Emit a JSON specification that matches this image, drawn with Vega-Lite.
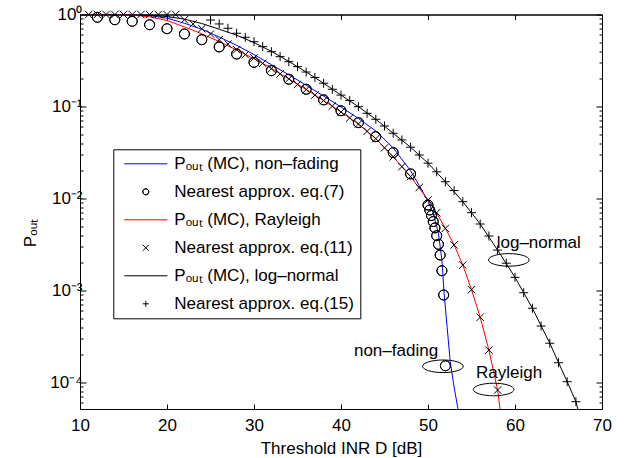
{
  "$schema": "https://vega.github.io/schema/vega-lite/v6.json",
  "width": 522,
  "height": 394.5,
  "autosize": {"type": "none"},
  "padding": {"left": 80, "top": 14.5, "right": 26, "bottom": 49},
  "background": "white",
  "config": {
    "font": "Liberation Sans",
    "view": {"stroke": "black", "strokeWidth": 1},
    "axis": {
      "domainColor": "black", "tickColor": "black", "labelColor": "black", "titleColor": "black",
      "labelFont": "Liberation Sans", "titleFont": "Liberation Sans",
      "labelFontSize": 17, "titleFontSize": 17, "titleFontWeight": "normal",
      "grid": false, "domainWidth": 1, "tickWidth": 1, "labelOverlap": false, "labelFlush": false
    }
  },
  "datasets": {
    "mc": [
      {"s": "Pₒᵤₜ (MC), non–fading", "x": 10, "p": 1},
      {"s": "Pₒᵤₜ (MC), non–fading", "x": 14, "p": 0.9977},
      {"s": "Pₒᵤₜ (MC), non–fading", "x": 16, "p": 0.9908},
      {"s": "Pₒᵤₜ (MC), non–fading", "x": 18, "p": 0.9727},
      {"s": "Pₒᵤₜ (MC), non–fading", "x": 20, "p": 0.912},
      {"s": "Pₒᵤₜ (MC), non–fading", "x": 22, "p": 0.804},
      {"s": "Pₒᵤₜ (MC), non–fading", "x": 24, "p": 0.692},
      {"s": "Pₒᵤₜ (MC), non–fading", "x": 26, "p": 0.569},
      {"s": "Pₒᵤₜ (MC), non–fading", "x": 28, "p": 0.462},
      {"s": "Pₒᵤₜ (MC), non–fading", "x": 30, "p": 0.367},
      {"s": "Pₒᵤₜ (MC), non–fading", "x": 32, "p": 0.285},
      {"s": "Pₒᵤₜ (MC), non–fading", "x": 34, "p": 0.221},
      {"s": "Pₒᵤₜ (MC), non–fading", "x": 36, "p": 0.17},
      {"s": "Pₒᵤₜ (MC), non–fading", "x": 38, "p": 0.13},
      {"s": "Pₒᵤₜ (MC), non–fading", "x": 40, "p": 0.0989},
      {"s": "Pₒᵤₜ (MC), non–fading", "x": 42, "p": 0.0741},
      {"s": "Pₒᵤₜ (MC), non–fading", "x": 44, "p": 0.0543},
      {"s": "Pₒᵤₜ (MC), non–fading", "x": 46, "p": 0.0355},
      {"s": "Pₒᵤₜ (MC), non–fading", "x": 48, "p": 0.02},
      {"s": "Pₒᵤₜ (MC), non–fading", "x": 49, "p": 0.0138},
      {"s": "Pₒᵤₜ (MC), non–fading", "x": 50, "p": 0.00933},
      {"s": "Pₒᵤₜ (MC), non–fading", "x": 50.6, "p": 0.00692},
      {"s": "Pₒᵤₜ (MC), non–fading", "x": 51.2, "p": 0.00417},
      {"s": "Pₒᵤₜ (MC), non–fading", "x": 51.6, "p": 0.00214},
      {"s": "Pₒᵤₜ (MC), non–fading", "x": 51.85, "p": 0.000933},
      {"s": "Pₒᵤₜ (MC), non–fading", "x": 52.2, "p": 0.000398},
      {"s": "Pₒᵤₜ (MC), non–fading", "x": 52.55, "p": 0.00017},
      {"s": "Pₒᵤₜ (MC), non–fading", "x": 53.0, "p": 0.0000891},
      {"s": "Pₒᵤₜ (MC), non–fading", "x": 53.45, "p": 0.0000513},
      {"s": "Pₒᵤₜ (MC), Rayleigh", "x": 10, "p": 1},
      {"s": "Pₒᵤₜ (MC), Rayleigh", "x": 14, "p": 0.9977},
      {"s": "Pₒᵤₜ (MC), Rayleigh", "x": 16, "p": 0.9863},
      {"s": "Pₒᵤₜ (MC), Rayleigh", "x": 18, "p": 0.9441},
      {"s": "Pₒᵤₜ (MC), Rayleigh", "x": 20, "p": 0.861},
      {"s": "Pₒᵤₜ (MC), Rayleigh", "x": 22, "p": 0.733},
      {"s": "Pₒᵤₜ (MC), Rayleigh", "x": 24, "p": 0.617},
      {"s": "Pₒᵤₜ (MC), Rayleigh", "x": 26, "p": 0.507},
      {"s": "Pₒᵤₜ (MC), Rayleigh", "x": 28, "p": 0.412},
      {"s": "Pₒᵤₜ (MC), Rayleigh", "x": 30, "p": 0.331},
      {"s": "Pₒᵤₜ (MC), Rayleigh", "x": 32, "p": 0.26},
      {"s": "Pₒᵤₜ (MC), Rayleigh", "x": 34, "p": 0.1995},
      {"s": "Pₒᵤₜ (MC), Rayleigh", "x": 36, "p": 0.153},
      {"s": "Pₒᵤₜ (MC), Rayleigh", "x": 38, "p": 0.116},
      {"s": "Pₒᵤₜ (MC), Rayleigh", "x": 40, "p": 0.0871},
      {"s": "Pₒᵤₜ (MC), Rayleigh", "x": 42, "p": 0.0646},
      {"s": "Pₒᵤₜ (MC), Rayleigh", "x": 44, "p": 0.0447},
      {"s": "Pₒᵤₜ (MC), Rayleigh", "x": 46, "p": 0.0284},
      {"s": "Pₒᵤₜ (MC), Rayleigh", "x": 48, "p": 0.0173},
      {"s": "Pₒᵤₜ (MC), Rayleigh", "x": 50, "p": 0.00964},
      {"s": "Pₒᵤₜ (MC), Rayleigh", "x": 51, "p": 0.00692},
      {"s": "Pₒᵤₜ (MC), Rayleigh", "x": 52, "p": 0.00474},
      {"s": "Pₒᵤₜ (MC), Rayleigh", "x": 53, "p": 0.00313},
      {"s": "Pₒᵤₜ (MC), Rayleigh", "x": 54, "p": 0.00189},
      {"s": "Pₒᵤₜ (MC), Rayleigh", "x": 55, "p": 0.00102},
      {"s": "Pₒᵤₜ (MC), Rayleigh", "x": 56, "p": 0.000512},
      {"s": "Pₒᵤₜ (MC), Rayleigh", "x": 57, "p": 0.000225},
      {"s": "Pₒᵤₜ (MC), Rayleigh", "x": 58, "p": 0.0000828},
      {"s": "Pₒᵤₜ (MC), Rayleigh", "x": 58.3, "p": 0.0000501},
      {"s": "Pₒᵤₜ (MC), log–normal", "x": 10, "p": 1},
      {"s": "Pₒᵤₜ (MC), log–normal", "x": 14, "p": 0.999},
      {"s": "Pₒᵤₜ (MC), log–normal", "x": 16, "p": 0.9908},
      {"s": "Pₒᵤₜ (MC), log–normal", "x": 18, "p": 0.9795},
      {"s": "Pₒᵤₜ (MC), log–normal", "x": 20, "p": 0.951},
      {"s": "Pₒᵤₜ (MC), log–normal", "x": 22, "p": 0.891},
      {"s": "Pₒᵤₜ (MC), log–normal", "x": 24, "p": 0.798},
      {"s": "Pₒᵤₜ (MC), log–normal", "x": 26, "p": 0.692},
      {"s": "Pₒᵤₜ (MC), log–normal", "x": 28, "p": 0.596},
      {"s": "Pₒᵤₜ (MC), log–normal", "x": 30, "p": 0.495},
      {"s": "Pₒᵤₜ (MC), log–normal", "x": 32, "p": 0.398},
      {"s": "Pₒᵤₜ (MC), log–normal", "x": 34, "p": 0.309},
      {"s": "Pₒᵤₜ (MC), log–normal", "x": 36, "p": 0.237},
      {"s": "Pₒᵤₜ (MC), log–normal", "x": 38, "p": 0.179},
      {"s": "Pₒᵤₜ (MC), log–normal", "x": 40, "p": 0.133},
      {"s": "Pₒᵤₜ (MC), log–normal", "x": 42, "p": 0.0995},
      {"s": "Pₒᵤₜ (MC), log–normal", "x": 44, "p": 0.0726},
      {"s": "Pₒᵤₜ (MC), log–normal", "x": 46, "p": 0.0512},
      {"s": "Pₒᵤₜ (MC), log–normal", "x": 48, "p": 0.0361},
      {"s": "Pₒᵤₜ (MC), log–normal", "x": 50, "p": 0.0242},
      {"s": "Pₒᵤₜ (MC), log–normal", "x": 52, "p": 0.0152},
      {"s": "Pₒᵤₜ (MC), log–normal", "x": 54, "p": 0.00923},
      {"s": "Pₒᵤₜ (MC), log–normal", "x": 56, "p": 0.00528},
      {"s": "Pₒᵤₜ (MC), log–normal", "x": 58, "p": 0.00275},
      {"s": "Pₒᵤₜ (MC), log–normal", "x": 60, "p": 0.00139},
      {"s": "Pₒᵤₜ (MC), log–normal", "x": 62, "p": 0.000641},
      {"s": "Pₒᵤₜ (MC), log–normal", "x": 64, "p": 0.000267},
      {"s": "Pₒᵤₜ (MC), log–normal", "x": 66, "p": 0.000102},
      {"s": "Pₒᵤₜ (MC), log–normal", "x": 67, "p": 0.0000618},
      {"s": "Pₒᵤₜ (MC), log–normal", "x": 67.25, "p": 0.0000501}
    ],
    "circ": [
      {"s": "Nearest approx. eq.(7)", "x": 12, "p": 0.933},
      {"s": "Nearest approx. eq.(7)", "x": 14, "p": 0.877},
      {"s": "Nearest approx. eq.(7)", "x": 16, "p": 0.843},
      {"s": "Nearest approx. eq.(7)", "x": 18, "p": 0.774},
      {"s": "Nearest approx. eq.(7)", "x": 20, "p": 0.701},
      {"s": "Nearest approx. eq.(7)", "x": 22, "p": 0.614},
      {"s": "Nearest approx. eq.(7)", "x": 24, "p": 0.532},
      {"s": "Nearest approx. eq.(7)", "x": 26, "p": 0.444},
      {"s": "Nearest approx. eq.(7)", "x": 28, "p": 0.372},
      {"s": "Nearest approx. eq.(7)", "x": 30, "p": 0.302},
      {"s": "Nearest approx. eq.(7)", "x": 32, "p": 0.245},
      {"s": "Nearest approx. eq.(7)", "x": 34, "p": 0.198},
      {"s": "Nearest approx. eq.(7)", "x": 36, "p": 0.154},
      {"s": "Nearest approx. eq.(7)", "x": 38, "p": 0.118},
      {"s": "Nearest approx. eq.(7)", "x": 40, "p": 0.0899},
      {"s": "Nearest approx. eq.(7)", "x": 42, "p": 0.0667},
      {"s": "Nearest approx. eq.(7)", "x": 44, "p": 0.047},
      {"s": "Nearest approx. eq.(7)", "x": 46, "p": 0.0315},
      {"s": "Nearest approx. eq.(7)", "x": 48, "p": 0.0185},
      {"s": "Nearest approx. eq.(7)", "x": 50, "p": 0.00849},
      {"s": "Nearest approx. eq.(7)", "x": 50.2, "p": 0.0075},
      {"s": "Nearest approx. eq.(7)", "x": 50.4, "p": 0.00653},
      {"s": "Nearest approx. eq.(7)", "x": 50.6, "p": 0.00562},
      {"s": "Nearest approx. eq.(7)", "x": 50.8, "p": 0.00479},
      {"s": "Nearest approx. eq.(7)", "x": 51.0, "p": 0.00394},
      {"s": "Nearest approx. eq.(7)", "x": 51.2, "p": 0.00318},
      {"s": "Nearest approx. eq.(7)", "x": 51.4, "p": 0.00243},
      {"s": "Nearest approx. eq.(7)", "x": 51.6, "p": 0.00164},
      {"s": "Nearest approx. eq.(7)", "x": 51.8, "p": 0.000893},
      {"s": "Nearest approx. eq.(7)", "x": 52.0, "p": 0.000152}
    ],
    "xmark": [
      {"s": "Nearest approx. eq.(11)", "x": 11, "p": 1},
      {"s": "Nearest approx. eq.(11)", "x": 12, "p": 1},
      {"s": "Nearest approx. eq.(11)", "x": 13, "p": 1},
      {"s": "Nearest approx. eq.(11)", "x": 14, "p": 1},
      {"s": "Nearest approx. eq.(11)", "x": 15, "p": 1},
      {"s": "Nearest approx. eq.(11)", "x": 16, "p": 1},
      {"s": "Nearest approx. eq.(11)", "x": 17, "p": 1},
      {"s": "Nearest approx. eq.(11)", "x": 18, "p": 1},
      {"s": "Nearest approx. eq.(11)", "x": 19, "p": 1},
      {"s": "Nearest approx. eq.(11)", "x": 20, "p": 1},
      {"s": "Nearest approx. eq.(11)", "x": 21, "p": 1},
      {"s": "Nearest approx. eq.(11)", "x": 22, "p": 0.877},
      {"s": "Nearest approx. eq.(11)", "x": 23, "p": 0.789},
      {"s": "Nearest approx. eq.(11)", "x": 24, "p": 0.701},
      {"s": "Nearest approx. eq.(11)", "x": 25, "p": 0.614},
      {"s": "Nearest approx. eq.(11)", "x": 26, "p": 0.532},
      {"s": "Nearest approx. eq.(11)", "x": 27, "p": 0.478},
      {"s": "Nearest approx. eq.(11)", "x": 28, "p": 0.414},
      {"s": "Nearest approx. eq.(11)", "x": 29, "p": 0.366},
      {"s": "Nearest approx. eq.(11)", "x": 30, "p": 0.337},
      {"s": "Nearest approx. eq.(11)", "x": 31, "p": 0.295},
      {"s": "Nearest approx. eq.(11)", "x": 32, "p": 0.257},
      {"s": "Nearest approx. eq.(11)", "x": 33, "p": 0.226},
      {"s": "Nearest approx. eq.(11)", "x": 34, "p": 0.1995},
      {"s": "Nearest approx. eq.(11)", "x": 35, "p": 0.174},
      {"s": "Nearest approx. eq.(11)", "x": 36, "p": 0.153},
      {"s": "Nearest approx. eq.(11)", "x": 37, "p": 0.133},
      {"s": "Nearest approx. eq.(11)", "x": 38, "p": 0.116},
      {"s": "Nearest approx. eq.(11)", "x": 39, "p": 0.101},
      {"s": "Nearest approx. eq.(11)", "x": 40, "p": 0.0871},
      {"s": "Nearest approx. eq.(11)", "x": 41, "p": 0.075},
      {"s": "Nearest approx. eq.(11)", "x": 42, "p": 0.0646},
      {"s": "Nearest approx. eq.(11)", "x": 43, "p": 0.0537},
      {"s": "Nearest approx. eq.(11)", "x": 44, "p": 0.0447},
      {"s": "Nearest approx. eq.(11)", "x": 45, "p": 0.0355},
      {"s": "Nearest approx. eq.(11)", "x": 46, "p": 0.0284},
      {"s": "Nearest approx. eq.(11)", "x": 47, "p": 0.0222},
      {"s": "Nearest approx. eq.(11)", "x": 48, "p": 0.0173},
      {"s": "Nearest approx. eq.(11)", "x": 49, "p": 0.0132},
      {"s": "Nearest approx. eq.(11)", "x": 50, "p": 0.00964},
      {"s": "Nearest approx. eq.(11)", "x": 51, "p": 0.00701},
      {"s": "Nearest approx. eq.(11)", "x": 52, "p": 0.00474},
      {"s": "Nearest approx. eq.(11)", "x": 53, "p": 0.00313},
      {"s": "Nearest approx. eq.(11)", "x": 54, "p": 0.00189},
      {"s": "Nearest approx. eq.(11)", "x": 55, "p": 0.00102},
      {"s": "Nearest approx. eq.(11)", "x": 56, "p": 0.000512},
      {"s": "Nearest approx. eq.(11)", "x": 57, "p": 0.000225},
      {"s": "Nearest approx. eq.(11)", "x": 58, "p": 0.0000828}
    ],
    "plus": [
      {"s": "Nearest approx. eq.(15)", "x": 25, "p": 0.871},
      {"s": "Nearest approx. eq.(15)", "x": 26, "p": 0.789},
      {"s": "Nearest approx. eq.(15)", "x": 27, "p": 0.708},
      {"s": "Nearest approx. eq.(15)", "x": 28, "p": 0.625},
      {"s": "Nearest approx. eq.(15)", "x": 29, "p": 0.565},
      {"s": "Nearest approx. eq.(15)", "x": 30, "p": 0.506},
      {"s": "Nearest approx. eq.(15)", "x": 31, "p": 0.447},
      {"s": "Nearest approx. eq.(15)", "x": 32, "p": 0.394},
      {"s": "Nearest approx. eq.(15)", "x": 33, "p": 0.348},
      {"s": "Nearest approx. eq.(15)", "x": 34, "p": 0.307},
      {"s": "Nearest approx. eq.(15)", "x": 35, "p": 0.271},
      {"s": "Nearest approx. eq.(15)", "x": 36, "p": 0.237},
      {"s": "Nearest approx. eq.(15)", "x": 37, "p": 0.207},
      {"s": "Nearest approx. eq.(15)", "x": 38, "p": 0.179},
      {"s": "Nearest approx. eq.(15)", "x": 39, "p": 0.154},
      {"s": "Nearest approx. eq.(15)", "x": 40, "p": 0.133},
      {"s": "Nearest approx. eq.(15)", "x": 41, "p": 0.116},
      {"s": "Nearest approx. eq.(15)", "x": 42, "p": 0.0995},
      {"s": "Nearest approx. eq.(15)", "x": 43, "p": 0.0843},
      {"s": "Nearest approx. eq.(15)", "x": 44, "p": 0.0726},
      {"s": "Nearest approx. eq.(15)", "x": 45, "p": 0.0614},
      {"s": "Nearest approx. eq.(15)", "x": 46, "p": 0.0512},
      {"s": "Nearest approx. eq.(15)", "x": 47, "p": 0.0433},
      {"s": "Nearest approx. eq.(15)", "x": 48, "p": 0.0361},
      {"s": "Nearest approx. eq.(15)", "x": 49, "p": 0.0297},
      {"s": "Nearest approx. eq.(15)", "x": 50, "p": 0.0242},
      {"s": "Nearest approx. eq.(15)", "x": 51, "p": 0.0195},
      {"s": "Nearest approx. eq.(15)", "x": 52, "p": 0.0152},
      {"s": "Nearest approx. eq.(15)", "x": 53, "p": 0.0122},
      {"s": "Nearest approx. eq.(15)", "x": 54, "p": 0.00923},
      {"s": "Nearest approx. eq.(15)", "x": 55, "p": 0.00701},
      {"s": "Nearest approx. eq.(15)", "x": 56, "p": 0.00528},
      {"s": "Nearest approx. eq.(15)", "x": 57, "p": 0.00391},
      {"s": "Nearest approx. eq.(15)", "x": 58, "p": 0.00275},
      {"s": "Nearest approx. eq.(15)", "x": 59, "p": 0.00198},
      {"s": "Nearest approx. eq.(15)", "x": 60, "p": 0.00139},
      {"s": "Nearest approx. eq.(15)", "x": 61, "p": 0.000946},
      {"s": "Nearest approx. eq.(15)", "x": 62, "p": 0.000641},
      {"s": "Nearest approx. eq.(15)", "x": 63, "p": 0.000411},
      {"s": "Nearest approx. eq.(15)", "x": 64, "p": 0.000267},
      {"s": "Nearest approx. eq.(15)", "x": 65, "p": 0.000164},
      {"s": "Nearest approx. eq.(15)", "x": 66, "p": 0.000102},
      {"s": "Nearest approx. eq.(15)", "x": 67, "p": 0.0000618}
    ],
    "notes": [
      {"t": "log–normal", "x": 57.9, "p": 0.00292},
      {"t": "non–fading", "x": 41.49, "p": 0.000194},
      {"t": "Rayleigh", "x": 55.52, "p": 0.000111}
    ],
    "rings": [
      {"x": 59.29, "p": 0.00215},
      {"x": 51.72, "p": 0.00015},
      {"x": 57.55, "p": 0.0000839}
    ]
  },
  "layer": [
    {
      "data": {"name": "mc"},
      "mark": {"type": "line", "strokeWidth": 1, "clip": true},
      "encoding": {
        "x": {"field": "x", "type": "quantitative", "scale": {"domain": [10, 70], "nice": false, "zero": false},
          "axis": {"orient": "bottom", "values": [10, 20, 30, 40, 50, 60, 70], "tickSize": -5, "labelPadding": 13, "title": "Threshold INR D [dB]", "titlePadding": 7}},
        "y": {"field": "p", "type": "quantitative", "scale": {"type": "log", "domain": [0.0000515, 1], "nice": false},
          "axis": {"orient": "left",
            "values": [0.00006, 0.00007, 0.00008, 0.00009, 0.0001, 0.0002, 0.0003, 0.0004, 0.0005, 0.0006, 0.0007, 0.0008, 0.0009, 0.001, 0.002, 0.003, 0.004, 0.005, 0.006, 0.007, 0.008, 0.009, 0.01, 0.02, 0.03, 0.04, 0.05, 0.06, 0.07, 0.08, 0.09, 0.1, 0.2, 0.3, 0.4, 0.5, 0.6, 0.7, 0.8, 0.9, 1],
            "labelExpr": "abs(log(datum.value)/LN10 - round(log(datum.value)/LN10)) < 0.001 ? '10' + ['⁰','⁻¹','⁻²','⁻³','⁻⁴'][-round(log(datum.value)/LN10)] : ''",
            "tickSize": {"condition": {"test": "abs(log(datum.value)/LN10 - round(log(datum.value)/LN10)) < 0.001", "value": -6}, "value": -3},
            "labelPadding": 4, "title": "Pₒᵤₜ", "titlePadding": 10, "titleY": 218}},
        "color": {"field": "s", "type": "nominal",
          "scale": {"domain": ["Pₒᵤₜ (MC), non–fading", "Nearest approx. eq.(7)", "Pₒᵤₜ (MC), Rayleigh", "Nearest approx. eq.(11)", "Pₒᵤₜ (MC), log–normal", "Nearest approx. eq.(15)"],
                    "range": ["#0000ff", "#000000", "#ff0000", "#000000", "#000000", "#000000"]},
          "legend": {"orient": "none", "legendX": 33.3, "legendY": 134.8, "title": null,
            "labelFontSize": 17, "labelFont": "Liberation Sans", "labelColor": "black", "labelLimit": 400,
            "symbolSize": 36, "symbolStrokeWidth": 1, "symbolFillColor": "transparent", "strokeColor": "black", "fillColor": "white",
            "padding": 6, "rowPadding": 10, "labelOffset": 20, "symbolOffset": 18}},
        "shape": {"field": "s", "type": "nominal",
          "scale": {"domain": ["Pₒᵤₜ (MC), non–fading", "Nearest approx. eq.(7)", "Pₒᵤₜ (MC), Rayleigh", "Nearest approx. eq.(11)", "Pₒᵤₜ (MC), log–normal", "Nearest approx. eq.(15)"],
                    "range": ["M-7.2,0H7.2", "M1,0A1,1,0,1,1,-1,0A1,1,0,1,1,1,0A1,1,0,1,0,-1,0A1,1,0,1,0,1,0", "M-7.2,0H7.2", "M-1,-1L1,1M-1,1L1,-1", "M-7.2,0H7.2", "M-1,0H1M0,-1V1"]}}
      }
    },
    {
      "data": {"name": "circ"},
      "mark": {"type": "point", "filled": false, "size": 100, "strokeWidth": 1, "opacity": 1},
      "encoding": {
        "x": {"field": "x", "type": "quantitative",
          "axis": {"orient": "top", "values": [10, 20, 30, 40, 50, 60, 70], "tickSize": -5, "labels": false, "title": null}},
        "y": {"field": "p", "type": "quantitative",
          "axis": {"orient": "right",
            "values": [0.00006, 0.00007, 0.00008, 0.00009, 0.0001, 0.0002, 0.0003, 0.0004, 0.0005, 0.0006, 0.0007, 0.0008, 0.0009, 0.001, 0.002, 0.003, 0.004, 0.005, 0.006, 0.007, 0.008, 0.009, 0.01, 0.02, 0.03, 0.04, 0.05, 0.06, 0.07, 0.08, 0.09, 0.1, 0.2, 0.3, 0.4, 0.5, 0.6, 0.7, 0.8, 0.9, 1],
            "tickSize": {"condition": {"test": "abs(log(datum.value)/LN10 - round(log(datum.value)/LN10)) < 0.001", "value": -6}, "value": -3},
            "labels": false, "title": null}},
        "color": {"field": "s", "type": "nominal"},
        "shape": {"field": "s", "type": "nominal"}
      }
    },
    {
      "data": {"name": "xmark"},
      "mark": {"type": "point", "filled": false, "size": 55, "strokeWidth": 1, "opacity": 1},
      "encoding": {
        "x": {"field": "x", "type": "quantitative", "axis": null},
        "y": {"field": "p", "type": "quantitative", "axis": null},
        "color": {"field": "s", "type": "nominal"},
        "shape": {"field": "s", "type": "nominal"}
      }
    },
    {
      "data": {"name": "plus"},
      "mark": {"type": "point", "filled": false, "size": 81, "strokeWidth": 1, "opacity": 1},
      "encoding": {
        "x": {"field": "x", "type": "quantitative", "axis": null},
        "y": {"field": "p", "type": "quantitative", "axis": null},
        "color": {"field": "s", "type": "nominal"},
        "shape": {"field": "s", "type": "nominal"}
      }
    },
    {
      "data": {"name": "rings"},
      "mark": {"type": "point", "filled": false, "size": 1648, "strokeWidth": 1, "opacity": 1, "color": "black",
        "shape": "M-1,0A1,0.31,0,1,1,1,0A1,0.31,0,1,1,-1,0Z"},
      "encoding": {
        "x": {"field": "x", "type": "quantitative", "axis": null},
        "y": {"field": "p", "type": "quantitative", "axis": null}
      }
    },
    {
      "data": {"name": "notes"},
      "mark": {"type": "text", "align": "left", "baseline": "alphabetic", "fontSize": 17, "font": "Liberation Sans", "color": "black"},
      "encoding": {
        "x": {"field": "x", "type": "quantitative", "axis": null},
        "y": {"field": "p", "type": "quantitative", "axis": null},
        "text": {"field": "t"}
      }
    }
  ],
  "resolve": {"axis": {"x": "independent", "y": "independent"}}
}
